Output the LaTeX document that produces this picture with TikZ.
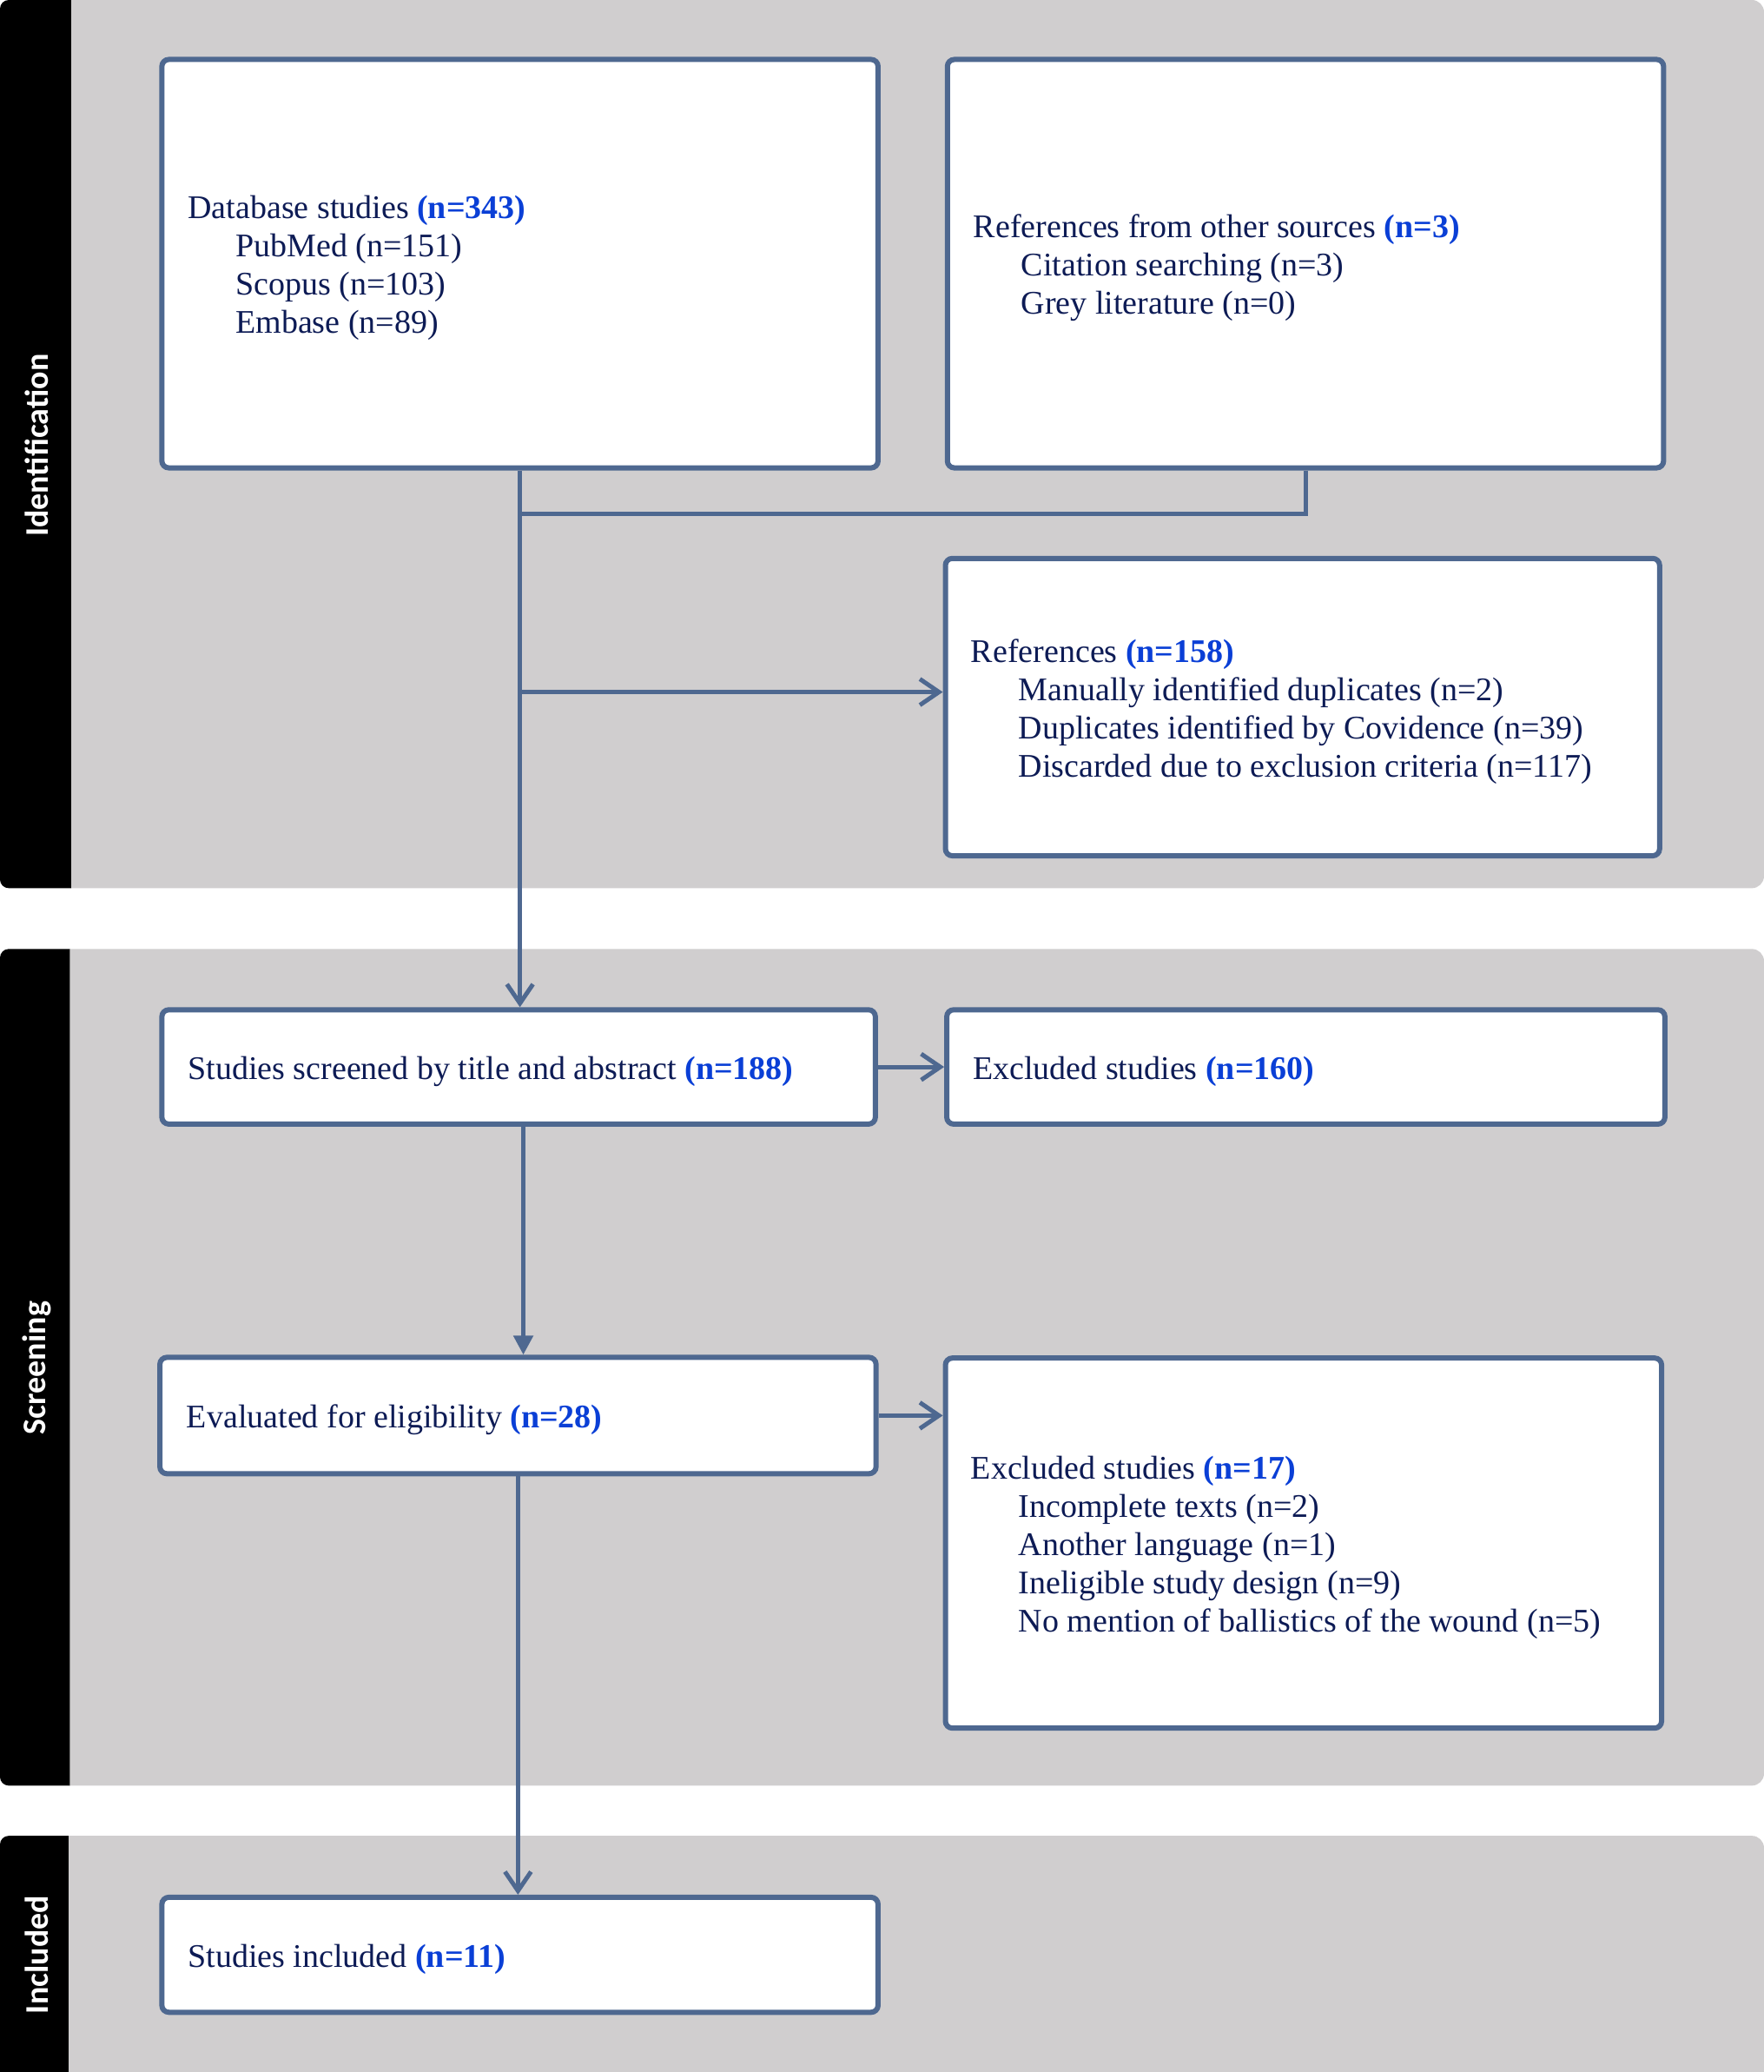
\documentclass[tikz,border=0pt]{standalone}
\usepackage{fontspec}
\setmainfont{Liberation Serif}
\newfontfamily\lblfont{Carlito}
\usetikzlibrary{arrows.meta,fit}
\definecolor{bandgrey}{HTML}{D0CECF}
\definecolor{linec}{HTML}{4E6890}
\definecolor{navy}{HTML}{0D1B55}
\definecolor{nblue}{HTML}{0A3FD6}
\newcommand\bluen[1]{\textcolor{nblue}{\textbf{#1}}}
\newcommand\myind{\hspace*{27.4pt}}
\tikzset{
  box/.style={draw=linec, line width=3pt, fill=white, rounded corners=4pt, inner sep=0pt},
  txt/.style={anchor=west, inner sep=0pt, align=left, text=navy, font=\fontsize{19}{22}\selectfont},
  lbl/.style={rotate=90, text=white, inner sep=0pt, font=\lblfont\bfseries\fontsize{19}{22}\selectfont},
  conn/.style={draw=linec, line width=2.5pt},
  barb/.style={-{Straight Barb[length=11pt,width=15pt]}},
  tri/.style={-{Triangle[length=11pt,width=11pt]}}
}
\begin{document}
\begin{tikzpicture}[x=0.76066pt,y=-0.76066pt]
\useasboundingbox (0,0) rectangle (1335,1567.7);
\fill[white] (0,0) rectangle (1335,1567.7);
% bands
\begin{scope}\clip (0,0) rectangle (54,672);
  \fill[black, rounded corners=5pt] (0,0) rectangle (120,672);\end{scope}
\begin{scope}\clip (54,0) rectangle (1336,672);
  \fill[bandgrey, rounded corners=7pt] (0,0) rectangle (1335,672);\end{scope}
\begin{scope}\clip (0,718) rectangle (53,1351);
  \fill[black, rounded corners=5pt] (0,718) rectangle (120,1351);\end{scope}
\begin{scope}\clip (53,718) rectangle (1336,1351);
  \fill[bandgrey, rounded corners=7pt] (0,718) rectangle (1335,1351);\end{scope}
\begin{scope}\clip (0,1389) rectangle (52,1567.7);
  \fill[black, rounded corners=5pt] (0,1389) rectangle (120,1600);\end{scope}
\begin{scope}\clip (52,1389) rectangle (1336,1567.7);
  \fill[bandgrey, rounded corners=7pt] (0,1389) rectangle (1335,1600);\end{scope}
\node[lbl] (lid) at (28,337) {Identification};
\node[lbl] (lsc) at (28,1035) {Screening};
\node[lbl] (lin) at (28,1479) {Included};
% boxes
\node[box, fit={(122.5,45) (664.5,354)}] (db) {};
\node[box, fit={(717,45) (1259,354)}] (oth) {};
\node[box, fit={(715.5,422.5) (1256,647.5)}] (refs) {};
\node[box, fit={(122.5,764) (662.5,850.5)}] (scr) {};
\node[box, fit={(716.5,764) (1260,850.5)}] (exa) {};
\node[box, fit={(121,1027) (663,1115)}] (ev) {};
\node[box, fit={(715.5,1027.5) (1257.5,1307.5)}] (exb) {};
\node[box, fit={(122.5,1435.5) (664.5,1522.5)}] (inc) {};
% texts
\node[txt] (tdb) at ([shift={(21.5,3.4)}]db.west) {Database studies \bluen{(n=343)}\\\myind PubMed (n=151)\\\myind Scopus (n=103)\\\myind Embase (n=89)};
\node[txt] (toth) at ([shift={(21.5,3.4)}]oth.west) {References from other sources \bluen{(n=3)}\\\myind Citation searching (n=3)\\\myind Grey literature (n=0)};
\node[txt] (trefs) at ([shift={(21,3.4)}]refs.west) {References \bluen{(n=158)}\\\myind Manually identified duplicates (n=2)\\\myind Duplicates identified by Covidence (n=39)\\\myind Discarded due to exclusion criteria (n=117)};
\node[txt] (tscr) at ([shift={(21.5,3.4)}]scr.west) {Studies screened by title and abstract \bluen{(n=188)}};
\node[txt] (texa) at ([shift={(21.5,3.4)}]exa.west) {Excluded studies \bluen{(n=160)}};
\node[txt] (tev) at ([shift={(22,3.4)}]ev.west) {Evaluated for eligibility \bluen{(n=28)}};
\node[txt] (texb) at ([shift={(21,3.4)}]exb.west) {Excluded studies \bluen{(n=17)}\\\myind Incomplete texts (n=2)\\\myind Another language (n=1)\\\myind Ineligible study design (n=9)\\\myind No mention of ballistics of the wound (n=5)};
\node[txt] (tinc) at ([shift={(21.5,3.4)}]inc.west) {Studies included \bluen{(n=11)}};
% connectors
\coordinate (j1) at (393.5,388.7);
\coordinate (j2) at (393.5,523.6);
\draw[conn, barb] (db.south) -- (db.south |- scr.north);
\draw[conn] (oth.south) |- (j1);
\draw[conn, barb] (j2) -- (j2 -| refs.west);
\draw[conn, barb] (scr.east) -- (scr.east -| exa.west);
\draw[conn, tri] ([xshift=2.7pt]scr.south) -- ([xshift=2.7pt]scr.south |- ev.north);
\draw[conn, barb] (ev.east) -- (ev.east -| exb.west);
\draw[conn, barb] (ev.south) -- (ev.south |- inc.north);
\end{tikzpicture}
\end{document}
